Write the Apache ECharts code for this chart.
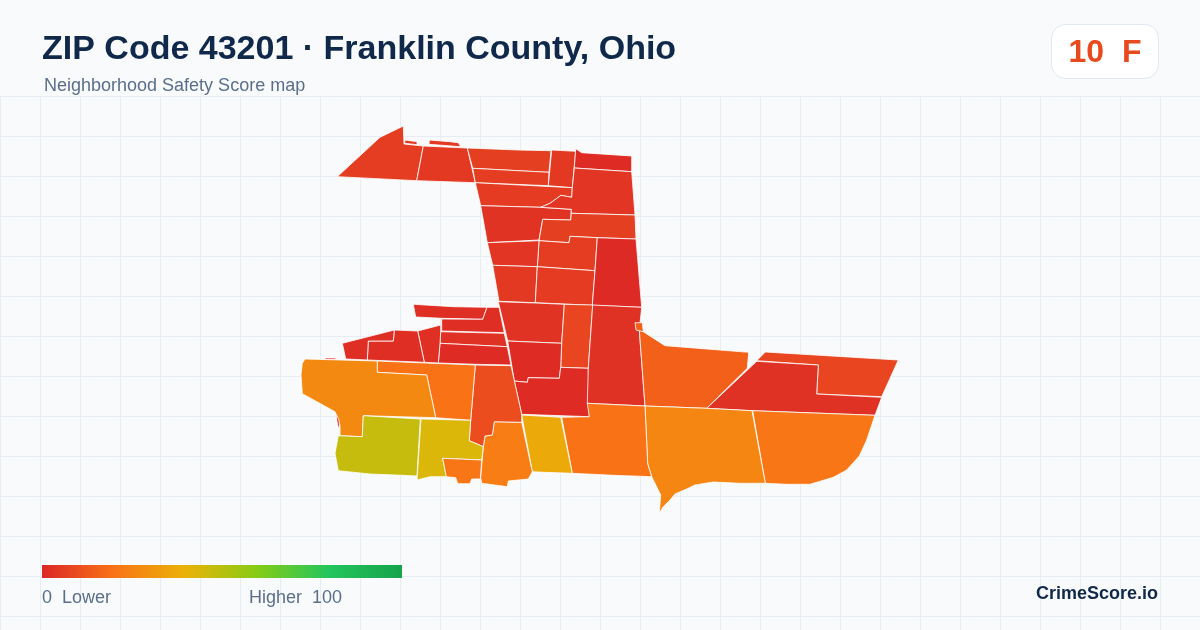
<!DOCTYPE html>
<html>
<head>
<meta charset="utf-8">
<style>html,body{margin:0;padding:0;background:#f8fafc}#c{width:1200px;height:630px}</style>
<script src="https://cdn.jsdelivr.net/npm/echarts@6/dist/echarts.min.js"></script>
</head>
<body>
<div id="c"></div>
<script>
const titleText = 'ZIP Code 43201 · Franklin County, Ohio';
const subtitleText = 'Neighborhood Safety Score map';
const badgeText = '10  F';
const brandText = 'CrimeScore.io';
const legendStops = ['#dc2626', '#f97316', '#eab308', '#84cc16', '#22c55e', '#16a34a'];
const scoreRange = [0, 100];

const tractNames = ['A','A2','B','B2','C1','C2','C3','C4','C5','C6','C7','C8','C9','C10','C11','C12','C13',
  'D1','D2','D3','D4','E5','F','F2','G','H','I','J','K','L','M','N','O','P','P2','P3','Q','R','S','T','U','V','W','X','Y','Z'];
const tractScores = [6,5,5,5,6.5,6,5,5.5,3.5,1.5,4,6.5,6,4,5,5.5,1,
  3.5,8,1.5,1.5,3,15,15,8,3,21,26,20,37,23,10,20,27,3,3,47,43,21,2,2,3,1.5,2.5,2,2];
const tractRings = {
  A:[[337.3,176.7],[380,137.3],[403.3,126],[404,144],[423.3,146],[416.7,180.7]],
  A2:[[405,140],[417,141.7],[417,144.7],[404.7,143.3]],
  B:[[423.3,146],[467.3,148],[475.3,182.7],[416.7,180.7]],
  B2:[[429.3,140],[450,141.7],[458.3,142.7],[460.7,146.7],[429,144.3]],
  C1:[[467.3,148],[518.3,150],[551,150.7],[549,172.3],[472.7,168.3]],
  C2:[[472.7,168.3],[549,172.3],[548.3,185.7],[475.3,182.7]],
  C3:[[551.7,150],[575.7,151.3],[572.3,187.7],[548.3,185.7]],
  C4:[[475.3,182.7],[572.3,187.7],[571.7,197.3],[561,195.3],[550,203.3],[540.7,207.3],[480.7,205.7]],
  C5:[[480.7,205.7],[540.7,207.3],[571.3,209.3],[570.7,220],[542.7,219.3],[539,240],[487.3,242.7]],
  C6:[[575.7,148.7],[581.7,152.7],[631.7,156],[631.7,171.7],[574.3,168]],
  C7:[[574.3,168],[631.7,171.7],[635,215],[571.3,213.3],[571.3,209.3],[540.7,207.3],[550,203.3],[561,195.3],[571.7,197.3],[572.3,187.7]],
  C8:[[542.7,219.3],[570.7,220],[571.3,213.3],[635,215],[636,239],[597.3,237.7],[570,236.3],[569,242.7],[539,240.7]],
  C9:[[539,240.7],[569,242.7],[570,236.3],[597.3,237.7],[595,270.7],[537.3,266.7]],
  C10:[[487.3,242.7],[539,240.7],[537.3,266.7],[492.7,265.3]],
  C11:[[492.7,265.3],[537.3,266.7],[535.3,302.7],[499,301.3]],
  C12:[[537.3,266.7],[595,270.7],[592.3,305.3],[535.3,302.7]],
  C13:[[597.3,237.7],[636,239],[641.7,307.3],[592.3,305.3],[595,270.7]],
  D1:[[498.3,301.7],[535.7,303],[564.3,304.3],[561.7,343.3],[507.7,341]],
  D2:[[564.3,304.3],[592.7,305],[588.3,368.3],[560.7,367.3],[561.7,343.3]],
  D3:[[507.7,341],[561.7,343.3],[560.7,367.3],[559.3,378.3],[528.3,377.7],[527.3,382.3],[514.3,381]],
  D4:[[514.3,381],[527.3,382.3],[528.3,377.7],[559.3,378.3],[560.7,367.3],[588.3,368.3],[589.3,416.7],[521.7,414.3]],
  E5:[[592.7,305],[641.7,307.3],[639.3,330],[645,406],[587.3,403.3],[588.3,368.3]],
  F:[[639.3,330],[643.3,331.7],[665,345.7],[748.7,352.3],[747.3,368.3],[706.7,408.3],[645,406]],
  F2:[[635,322.7],[642.3,322.7],[643.3,331.7],[639,330.7],[636,330]],
  G:[[765.3,352],[898.3,360],[881.7,396.7],[816.7,394],[818.3,365],[756.7,360.7]],
  H:[[756.7,361.3],[818.3,365],[816.7,394],[881.7,397.3],[875,415.3],[752,410.7],[706.7,408.3]],
  I:[[752.7,410.7],[875,415.3],[866.7,440],[859.3,456],[846.7,470],[833.3,477.3],[810,484.3],[786.7,484.3],[765.3,483.3]],
  J:[[645,406],[706.7,408.3],[752,410.7],[765.3,483.3],[740,483.3],[713.3,482],[695,485],[688.3,488.3],[675,494],[670,500],[663.3,506.7],[659.3,513.3],[660.7,495],[651.7,476.7],[647.7,464]],
  K:[[561.7,417.3],[589.3,416.7],[587.3,403.3],[645,406],[647.7,464],[651.7,476.7],[613.3,475.3],[572.3,473.3]],
  L:[[521.7,415],[560.7,417.3],[572.3,473.3],[543.3,472.3],[532.3,471.7]],
  M:[[494.3,421.7],[521.7,422.3],[532.3,471.7],[528.3,479],[508.3,481],[507.3,486.7],[481.7,483.3],[480.7,477.7],[483.3,446.7],[485,436],[492.3,435]],
  N:[[475.3,365],[511,365.7],[521.7,414.3],[521.7,422.3],[494.3,421.7],[492.3,435],[485,436],[483.3,446.7],[469.3,440.7],[470.7,420.3]],
  O:[[377.3,361],[475.3,365],[470.7,420.3],[435.7,417.7],[426.7,375],[377.3,372.3]],
  P:[[305,359],[377.3,361],[377.3,372.3],[426.7,375],[435.7,417.7],[363.3,415.7],[362.3,436.7],[340,435.7],[340,425],[335,411.7],[302.3,393.7],[301,375],[302.3,363.3]],
  P2:[[325,358],[335.7,358],[335.7,359.5],[325,359.5]],
  P3:[[336,414],[339,420],[339.7,430],[337.5,425]],
  Q:[[363.3,415.7],[420.3,419],[417,476],[395,475],[370,474],[338.3,470.7],[335,453.3],[338.3,435.7],[362.3,436.7]],
  R:[[421,419],[470.7,420.3],[469.3,440.7],[483.3,446.7],[481.7,460],[442.7,458.3],[446.3,476.7],[430,476.7],[417,480]],
  S:[[442.7,458.3],[481.7,460],[480.3,479],[471.7,479],[470,483.7],[457.7,483.7],[455.7,477.7],[446.3,476.7]],
  T:[[413.3,304.3],[453.3,306.7],[487,307.3],[482.7,319.3],[441.7,318.3],[415.7,317]],
  U:[[487,307.3],[499,307.3],[504.3,332.7],[441.7,331],[441.7,319],[482.7,319.3]],
  V:[[440.7,331.7],[504.3,333.3],[507.3,346.7],[473.3,345],[440,343.3]],
  W:[[440,343.3],[473.3,345],[507.3,346.7],[511,365],[475.3,364.3],[438.3,363]],
  X:[[417.7,331],[440.7,325],[440.7,331.7],[440,343.3],[438.3,363],[424.3,362.3]],
  Y:[[394.3,330],[417.7,331],[424.3,362.3],[367.3,360],[368.3,341],[393.3,341]],
  Z:[[342.3,343.3],[394.3,330],[393.3,341],[368.3,341],[367.3,360],[345.7,359]]
};

const all = Object.values(tractRings).flat();
const xs = all.map(p => p[0]), ys = all.map(p => p[1]);
const minX = Math.min(...xs), maxX = Math.max(...xs), minY = Math.min(...ys), maxY = Math.max(...ys);

echarts.registerMap('zip43201', {
  type: 'FeatureCollection',
  features: tractNames.map(n => {
    const ring = tractRings[n].map(p => [p[0], -p[1]]);
    ring.push(ring[0]);
    return {type: 'Feature', properties: {name: n}, geometry: {type: 'Polygon', coordinates: [ring]}};
  })
});

const gridStep = 40, gridTop = 96, W = 1200, H = 630, gridColor = '#e7eef3';
const gridEls = [];
for (let x = 0; x <= W; x += gridStep) {
  gridEls.push({type: 'line', shape: {x1: x + .5, y1: gridTop, x2: x + .5, y2: H}, style: {stroke: gridColor, lineWidth: 1}, silent: true});
}
for (let y = gridTop; y <= H; y += gridStep) {
  gridEls.push({type: 'line', shape: {x1: 0, y1: y + .5, x2: W, y2: y + .5}, style: {stroke: gridColor, lineWidth: 1}, silent: true});
}
const font = '"Liberation Sans", Arial, sans-serif';
const txt = (text, x, y, size, weight, fill, align) => ({
  type: 'text', x, y, silent: true, z: 10,
  style: {text, font: weight + ' ' + size + 'px ' + font, fill, align: align || 'left', verticalAlign: 'middle'}
});

const chart = echarts.init(document.getElementById('c'));
chart.setOption({
  backgroundColor: '#f8fafc',
  animation: false,
  visualMap: {
    type: 'continuous', show: false, min: scoreRange[0], max: scoreRange[1],
    inRange: {color: legendStops}, seriesIndex: 0
  },
  graphic: {elements: gridEls.concat([
    txt(titleText, 42, 50, 34, 'bold', '#10294a'),
    txt(subtitleText, 44, 86, 18, 'normal', '#5b6f8c'),
    {type: 'rect', shape: {x: 1051.5, y: 24.5, width: 107, height: 54, r: 14}, style: {fill: '#ffffff', stroke: '#e2e8f0', lineWidth: 1}, silent: true, z: 5},
    txt(badgeText, 1105, 53, 32, 'bold', '#e8491d', 'center'),
    {type: 'rect', shape: {x: 42, y: 565, width: 360, height: 13}, silent: true, z: 5,
     style: {fill: new echarts.graphic.LinearGradient(0, 0, 1, 0, legendStops.map((color, i) => ({offset: i / (legendStops.length - 1), color})))}},
    txt('0  Lower', 42, 598, 18, 'normal', '#5b6f8c'),
    txt('Higher  100', 249, 598, 18, 'normal', '#5b6f8c'),
    txt(brandText, 1158, 594, 18, 'bold', '#10294a', 'right')
  ])},
  series: [{
    type: 'map', map: 'zip43201', aspectScale: 1, roam: false, selectedMode: false, silent: true,
    left: minX, top: minY, width: maxX - minX, height: maxY - minY,
    label: {show: false},
    itemStyle: {borderColor: '#ffffff', borderWidth: 0.8},
    data: tractNames.map((n, i) => ({name: n, value: tractScores[i]}))
  }]
});
</script>
</body>
</html>
